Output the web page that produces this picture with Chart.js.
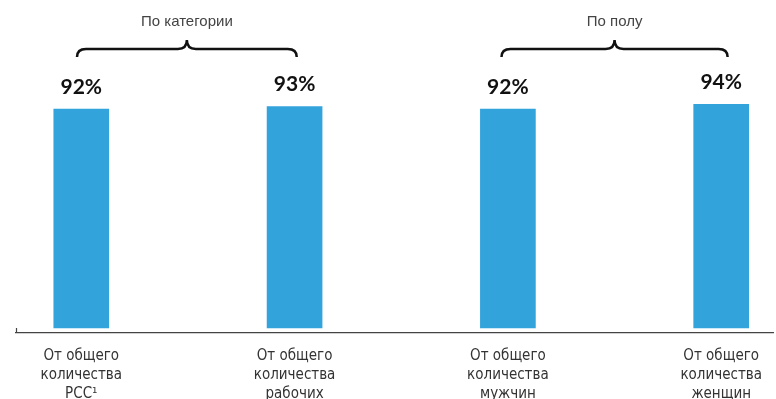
<!DOCTYPE html>
<html>
<head>
<meta charset="utf-8">
<script src="https://cdn.jsdelivr.net/npm/chart.js@4/dist/chart.umd.min.js"></script>
<style>
  html, body { margin: 0; padding: 0; background: #fff; }
  #wrap { width: 776px; height: 399px; }
</style>
</head>
<body>
<div id="wrap"><canvas id="chart" width="776" height="399"></canvas></div>
<script>
// Data
const categories = [
  ["От общего", "количества", "РСС¹"],
  ["От общего", "количества", "рабочих"],
  ["От общего", "количества", "мужчин"],
  ["От общего", "количества", "женщин"]
];
const shares = [92, 93, 92, 94];
const groupTitles = ["По категории", "По полу"];
const groupRanges = [[0, 1], [2, 3]];

// draws value labels, braces and group titles
const decor = {
  id: "decor",
  afterDatasetsDraw(chart) {
    const ctx = chart.ctx;
    const x = chart.scales.x;
    const meta = chart.getDatasetMeta(0);
    ctx.save();

    // value labels
    ctx.fillStyle = "#111";
    ctx.font = "bold 21px Lato";
    ctx.textAlign = "center";
    ctx.textBaseline = "middle";
    meta.data.forEach((bar, i) => {
      ctx.fillText(shares[i] + "%", bar.x, bar.y - 22);
    });

    // braces + titles
    const pads = [[-0.02, 0.01], [-0.03, 0.03]];
    groupRanges.forEach((g, k) => {
      const x1 = x.getPixelForValue(g[0] + pads[k][0]);
      const x2 = x.getPixelForValue(g[1] + pads[k][1]);
      const xc = (x1 + x2) / 2;
      const yh = 49, yp = 40, ye = 57, r = 9;
      ctx.beginPath();
      ctx.moveTo(x1, ye);
      ctx.quadraticCurveTo(x1, yh, x1 + r, yh);
      ctx.lineTo(xc - r, yh);
      ctx.quadraticCurveTo(xc, yh, xc, yp);
      ctx.quadraticCurveTo(xc, yh, xc + r, yh);
      ctx.lineTo(x2 - r, yh);
      ctx.quadraticCurveTo(x2, yh, x2, ye);
      ctx.strokeStyle = "#111";
      ctx.lineWidth = 2.5;
      ctx.stroke();

      ctx.fillStyle = "#444";
      ctx.font = "15px 'Liberation Sans'";
      ctx.fillText(groupTitles[k], xc, 22);
    });

    // small tick at the left end of the axis
    const a = chart.chartArea;
    ctx.beginPath();
    ctx.moveTo(a.left + 0.5, a.bottom - 5);
    ctx.lineTo(a.left + 0.5, a.bottom);
    ctx.strokeStyle = "#444";
    ctx.lineWidth = 1.2;
    ctx.stroke();
    ctx.restore();
  }
};

new Chart(document.getElementById("chart"), {
  type: "bar",
  data: {
    datasets: [{
      data: shares.map((v, i) => ({ x: i, y: v })),
      backgroundColor: "#33a3dc",
      barThickness: 55
    }]
  },
  options: {
    responsive: false,
    animation: false,
    layout: { padding: { left: 16, right: 0, top: 0, bottom: 0 } },
    plugins: { legend: { display: false }, tooltip: { enabled: false } },
    scales: {
      x: {
        type: "linear",
        offset: false,
        min: -0.306,
        max: 3.245,
        afterBuildTicks: s => { s.ticks = categories.map((_, i) => ({ value: i })); },
        afterFit: s => { s.height = 66; },
        grid: { display: false, drawTicks: false },
        border: { display: true, color: "#444", width: 1.3 },
        ticks: {
          autoSkip: false,
          maxRotation: 0,
          padding: 14,
          color: "#333",
          font: { family: "'Liberation Sans Narrow', 'DejaVu Sans Condensed'", size: 15, lineHeight: 1.25 },
          callback: v => categories[v]
        }
      },
      y: {
        display: false,
        min: -2.1,
        max: 137.8
      }
    }
  },
  plugins: [decor]
});
</script>
</body>
</html>
